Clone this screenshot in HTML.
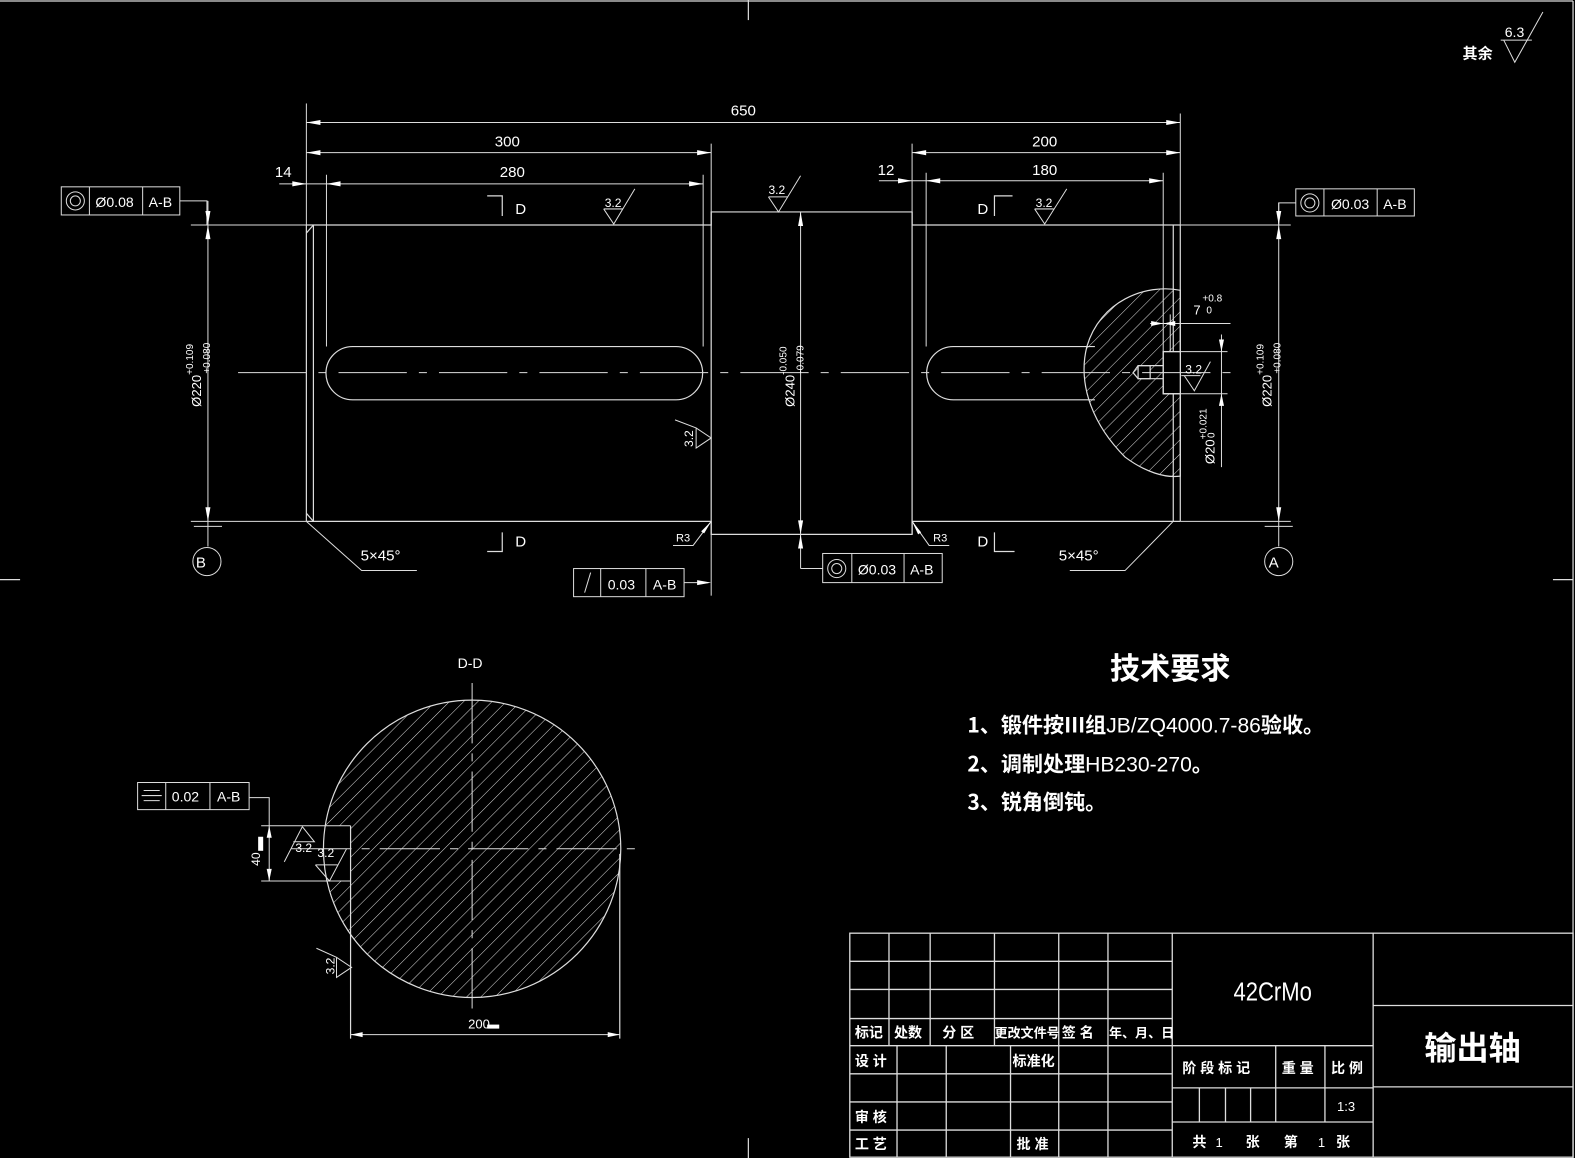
<!DOCTYPE html>
<html><head><meta charset="utf-8"><style>
html,body{margin:0;padding:0;background:#000;}
svg{display:block}
text{fill:#fff;font-family:"Liberation Sans Narrow","Liberation Sans","Noto Sans CJK SC",sans-serif;}
.c{font-family:"Noto Sans CJK SC","WenQuanYi Zen Hei",sans-serif;font-weight:bold}
</style></head><body>
<svg width="1575" height="1158" viewBox="0 0 1575 1158" xmlns="http://www.w3.org/2000/svg">
<defs>
<pattern id="h" patternUnits="userSpaceOnUse" width="10" height="10" patternTransform="rotate(45)">
<line x1="0" y1="0" x2="0" y2="10" stroke="#ddd" stroke-width="1"/>
</pattern>
</defs>
<rect width="1575" height="1158" fill="#000"/>
<g transform="scale(1.0045)" stroke="#ddd" stroke-width="1.2" fill="none">
<line x1="0" y1="1" x2="1566" y2="1"/>
<line x1="1566" y1="1" x2="1566" y2="1153"/>
<line x1="745" y1="0" x2="745" y2="20"/><line x1="745" y1="1133" x2="745" y2="1153"/>
<line x1="0" y1="577" x2="20" y2="577"/><line x1="1546" y1="577" x2="1566" y2="577"/>

<polyline points="305,224 708,224 708,211 908,211 908,224 1175,224"/>
<polyline points="305,519 708,519 708,532 908,532 908,519 1175,519"/>
<line x1="305" y1="224" x2="305" y2="519"/>
<line x1="312" y1="224" x2="312" y2="519"/>
<line x1="305" y1="232" x2="312" y2="224"/><line x1="305" y1="511" x2="312" y2="519"/>
<line x1="708" y1="211" x2="708" y2="532"/>
<line x1="908" y1="211" x2="908" y2="532"/>
<line x1="1168" y1="224" x2="1168" y2="519"/>
<line x1="1175" y1="224" x2="1175" y2="519"/>
<path d="M351,345 H673 A26.5,26.5 0 0 1 673,398 H351 A26.5,26.5 0 0 1 351,345 Z"/>
<path d="M1090,345 H949 A26.5,26.5 0 0 0 949,398 H1090"/>
<path d="M1175,289 C1140,282 1095,300 1082,345 C1072,385 1090,425 1120,455 C1140,470 1160,476 1175,474 Z" fill="url(#h)"/>
<rect x="1158" y="350" width="17" height="42" fill="#000"/>
<polyline points="1175,350 1158,350 1158,392 1175,392"/>
<rect x="1133" y="364" width="12" height="13" fill="#000"/>
<polyline points="1158,364 1133,364 1128,371 1133,377 1158,377"/>
<line x1="237" y1="371" x2="1225" y2="371" stroke-dasharray="68,12,8,12" stroke-width="1"/>

<g stroke-width="1">
<line x1="305" y1="103" x2="305" y2="224"/><line x1="1175" y1="113" x2="1175" y2="224"/>
<line x1="305" y1="122" x2="1175" y2="122"/>
<line x1="708" y1="143" x2="708" y2="211"/><line x1="305" y1="152" x2="708" y2="152"/>
<line x1="325" y1="174" x2="325" y2="345"/><line x1="700" y1="174" x2="700" y2="345"/>
<line x1="278" y1="183" x2="700" y2="183"/>
<line x1="908" y1="143" x2="908" y2="211"/><line x1="908" y1="152" x2="1175" y2="152"/>
<line x1="922" y1="172" x2="922" y2="345"/><line x1="1158" y1="172" x2="1158" y2="350"/>
<line x1="875" y1="180" x2="1158" y2="180"/>
<line x1="190" y1="224" x2="305" y2="224"/><line x1="190" y1="519" x2="305" y2="519"/>
<line x1="207" y1="200" x2="207" y2="544"/>
<line x1="193" y1="524" x2="221" y2="524"/>
<circle cx="206" cy="559" r="14"/>
<line x1="1175" y1="224" x2="1285" y2="224"/><line x1="1175" y1="519" x2="1285" y2="519"/>
<line x1="1273" y1="202" x2="1273" y2="544"/>
<line x1="1259" y1="524" x2="1287" y2="524"/>
<circle cx="1273" cy="559" r="14"/>
<line x1="797" y1="211" x2="797" y2="566"/>
<polyline points="797,566 819,566"/>
<line x1="1158" y1="350" x2="1222" y2="350"/><line x1="1158" y1="392" x2="1222" y2="392"/>
<line x1="1216" y1="333" x2="1216" y2="465"/>
<line x1="1145" y1="322" x2="1225" y2="322"/><line x1="1165" y1="313" x2="1165" y2="350"/>
<polyline points="179,200 206,200 206,224"/>
<polyline points="1290,202 1273,202 1273,224"/>
<polyline points="681,580 705,580"/>
<polyline points="305,519 360,568 415,568"/>
<polyline points="1168,519 1120,568 1065,568"/>
<polyline points="708,519 690,543 670,543"/>
<polyline points="908,519 925,543 945,543"/>
<line x1="708" y1="532" x2="708" y2="593"/>
</g>
<g fill="#fff" stroke="none">
<path d="M305,122 l14,-2.5 v5z"/><path d="M1175,122 l-14,-2.5 v5z"/>
<path d="M305,152 l14,-2.5 v5z"/><path d="M708,152 l-14,-2.5 v5z"/>
<path d="M325,183 l14,-2.5 v5z"/><path d="M700,183 l-14,-2.5 v5z"/>
<path d="M305,183 l-14,-2.5 v5z"/>
<path d="M908,152 l14,-2.5 v5z"/><path d="M1175,152 l-14,-2.5 v5z"/>
<path d="M922,180 l14,-2.5 v5z"/><path d="M1158,180 l-14,-2.5 v5z"/>
<path d="M908,180 l-14,-2.5 v5z"/>
<path d="M207,224 l-2.5,14 h5z"/><path d="M207,519 l-2.5,-14 h5z"/><path d="M207,224 l-2.5,-14 h5z"/>
<path d="M1273,224 l-2.5,14 h5z"/><path d="M1273,519 l-2.5,-14 h5z"/><path d="M1273,224 l-2.5,-14 h5z"/>
<path d="M797,211 l-2.5,14 h5z"/><path d="M797,532 l-2.5,-14 h5z"/><path d="M797,532 l-2.5,14 h5z"/>
<path d="M708,580 l-14,-2.5 v5z"/>
<path d="M1216,350 l-2.5,-12 h5z"/><path d="M1216,392 l-2.5,12 h5z"/>
<path d="M1158,322 l-12,-2.5 v5z"/><path d="M1158,322 l12,-2.5 v5z"/>
<path d="M708,519 l-10,10 l3,2z"/><path d="M908,519 l9,11 l-3,2z"/>
</g>

<polyline points="485,195 500,195 500,215"/>
<polyline points="485,549 500,549 500,530"/>
<polyline points="1008,195 990,195 990,215"/>
<polyline points="1010,549 990,549 990,530"/>

<g stroke-width="1">
<polyline points="601,208 611,223 632,188"/><line x1="601" y1="208" x2="620" y2="208"/>
<polyline points="765,196 775,211 797,175"/><line x1="765" y1="196" x2="784" y2="196"/>
<polyline points="1030,208 1040,223 1062,188"/><line x1="1030" y1="208" x2="1049" y2="208"/>
<polyline points="672,418 693,426 708,436 693,446 693,426"/>
<polyline points="1179,374 1189,389 1205,360"/><line x1="1176" y1="374" x2="1195" y2="374"/>
<polyline points="1497,40 1508,62 1536,12"/><line x1="1494" y1="40" x2="1525" y2="40"/>
</g>

<g stroke-width="1">
<rect x="61" y="186" width="118" height="28"/><line x1="89" y1="186" x2="89" y2="214"/><line x1="142" y1="186" x2="142" y2="214"/>
<circle cx="75" cy="200" r="9"/><circle cx="75" cy="200" r="5"/>
<rect x="1290" y="188" width="118" height="27"/><line x1="1318" y1="188" x2="1318" y2="215"/><line x1="1371" y1="188" x2="1371" y2="215"/>
<circle cx="1304" cy="202" r="9"/><circle cx="1304" cy="202" r="5"/>
<rect x="571" y="566" width="110" height="28"/><line x1="598" y1="566" x2="598" y2="594"/><line x1="643" y1="566" x2="643" y2="594"/>
<line x1="582" y1="590" x2="588" y2="570"/>
<rect x="819" y="551" width="119" height="29"/><line x1="848" y1="551" x2="848" y2="580"/><line x1="900" y1="551" x2="900" y2="580"/>
<circle cx="833" cy="566" r="9"/><circle cx="833" cy="566" r="5"/>
<rect x="137" y="779" width="111" height="27"/><line x1="165" y1="779" x2="165" y2="806"/><line x1="209" y1="779" x2="209" y2="806"/>
<line x1="143" y1="787" x2="159" y2="787"/><line x1="141" y1="792" x2="161" y2="792"/><line x1="143" y1="797" x2="159" y2="797"/>
<polyline points="248,794 268,794 268,822"/>
</g>

<!-- D-D section -->
<circle cx="470" cy="845" r="148" fill="url(#h)" stroke="none"/>
<rect x="318" y="822" width="31" height="55" fill="#000" stroke="none"/>
<circle cx="470" cy="845" r="148"/>
<line x1="349" y1="822" x2="349" y2="1034"/>
<line x1="617" y1="850" x2="617" y2="1034"/>
<line x1="349" y1="1030" x2="617" y2="1030" stroke-width="1"/>
<line x1="260" y1="822" x2="349" y2="822" stroke-width="1"/>
<line x1="260" y1="877" x2="349" y2="877" stroke-width="1"/>
<line x1="268" y1="822" x2="268" y2="877" stroke-width="1"/>
<line x1="290" y1="845" x2="637" y2="845" stroke-dasharray="60,10,8,10" stroke-width="1"/>
<line x1="470" y1="680" x2="470" y2="1010" stroke-dasharray="60,10,8,10" stroke-width="1"/>
<g stroke-width="1">
<polyline points="283,858 301,823 313,838 292,838"/>
<polyline points="314,861 328,877 345,845"/><line x1="314" y1="861" x2="336" y2="861"/>
<polyline points="315,944 335,953 350,963 335,973 335,953"/>
</g>
<g fill="#fff" stroke="none">
<path d="M349,1030 l12,-2.5 v5z"/><path d="M617,1030 l-12,-2.5 v5z"/>
<path d="M268,822 l-2.5,12 h5z"/><path d="M268,877 l-2.5,-12 h5z"/>
<rect x="257" y="833" width="5" height="14"/><rect x="485" y="1020" width="12" height="4"/>
</g>

<g stroke-width="1.3">
<rect x="846" y="929" width="720" height="223"/>
<line x1="1167" y1="929" x2="1167" y2="1152"/>
<line x1="1367" y1="929" x2="1367" y2="1152"/>
<line x1="1367" y1="1001" x2="1566" y2="1001"/>
<line x1="1367" y1="1082" x2="1566" y2="1082"/>
<line x1="846" y1="957" x2="1167" y2="957"/>
<line x1="846" y1="985" x2="1167" y2="985"/>
<line x1="846" y1="1014" x2="1167" y2="1014"/>
<line x1="846" y1="1041" x2="1367" y2="1041"/>
<line x1="846" y1="1069" x2="1167" y2="1069"/>
<line x1="846" y1="1097" x2="1167" y2="1097"/>
<line x1="846" y1="1125" x2="1167" y2="1125"/>
<line x1="885" y1="929" x2="885" y2="1041"/>
<line x1="926" y1="929" x2="926" y2="1041"/>
<line x1="990" y1="929" x2="990" y2="1041"/>
<line x1="1054" y1="929" x2="1054" y2="1152"/>
<line x1="1103" y1="929" x2="1103" y2="1152"/>
<line x1="893" y1="1041" x2="893" y2="1152"/>
<line x1="942" y1="1041" x2="942" y2="1152"/>
<line x1="1006" y1="1041" x2="1006" y2="1152"/>
<line x1="1167" y1="1083" x2="1367" y2="1083"/>
<line x1="1167" y1="1117" x2="1367" y2="1117"/>
<line x1="1194" y1="1083" x2="1194" y2="1117"/>
<line x1="1220" y1="1083" x2="1220" y2="1117"/>
<line x1="1245" y1="1083" x2="1245" y2="1117"/>
<line x1="1270" y1="1041" x2="1270" y2="1117"/>
<line x1="1319" y1="1041" x2="1319" y2="1117"/>
</g>
</g>

<g transform="scale(1.0045)" font-size="15">
<text x="740" y="115" text-anchor="middle">650</text>
<text x="505" y="146" text-anchor="middle">300</text>
<text x="510" y="176" text-anchor="middle">280</text>
<text x="282" y="176" text-anchor="middle">14</text>
<text x="1040" y="146" text-anchor="middle">200</text>
<text x="1040" y="174" text-anchor="middle">180</text>
<text x="882" y="174" text-anchor="middle">12</text>
<text x="513" y="213">D</text><text x="513" y="544">D</text>
<text x="973" y="213">D</text><text x="973" y="544">D</text>
<text x="602" y="206" font-size="12">3.2</text>
<text x="765" y="193" font-size="12">3.2</text>
<text x="1031" y="206" font-size="12">3.2</text>
<text x="1180" y="372" font-size="12">3.2</text>
<text x="1498" y="37" font-size="14">6.3</text>
<text x="1456" y="58" class="c" font-size="15">其余</text>
<text x="1188" y="313" font-size="13">7</text><text x="1197" y="300" font-size="10">+0.8</text><text x="1201" y="312" font-size="10">0</text>
<text x="359" y="558">5×45°</text>
<text x="1054" y="558">5×45°</text>
<text x="673" y="539" font-size="11">R3</text>
<text x="929" y="539" font-size="11">R3</text>
<text x="200" y="565" text-anchor="middle">B</text>
<text x="1268" y="565" text-anchor="middle">A</text>
<text x="95" y="206" font-size="14">Ø0.08</text><text x="148" y="206" font-size="14">A-B</text>
<text x="1325" y="208" font-size="14">Ø0.03</text><text x="1377" y="208" font-size="14">A-B</text>
<text x="605" y="587" font-size="14">0.03</text><text x="650" y="587" font-size="14">A-B</text>
<text x="854" y="572" font-size="14">Ø0.03</text><text x="906" y="572" font-size="14">A-B</text>
<text x="171" y="798" font-size="14">0.02</text><text x="216" y="798" font-size="14">A-B</text>
<text transform="translate(200,405) rotate(-90)" font-size="13">Ø220<tspan dy="-8" font-size="10">+0.109</tspan></text>
<text transform="translate(209,405) rotate(-90)" font-size="10" dx="33">+0.080</text>
<text transform="translate(1266,405) rotate(-90)" font-size="13">Ø220<tspan dy="-8" font-size="10">+0.109</tspan></text>
<text transform="translate(1275,405) rotate(-90)" font-size="10" dx="33">+0.080</text>
<text transform="translate(791,405) rotate(-90)" font-size="13">Ø240<tspan dy="-8" font-size="10">-0.050</tspan></text>
<text transform="translate(800,405) rotate(-90)" font-size="10" dx="33">-0.079</text>
<text transform="translate(1209,462) rotate(-90)" font-size="13">Ø20<tspan dy="-8" font-size="10">+0.021</tspan></text>
<text transform="translate(1209,462) rotate(-90)" font-size="10" dx="26">0</text>
<text transform="translate(690,445) rotate(-90)" font-size="12">3.2</text>
<text transform="translate(333,970) rotate(-90)" font-size="12">3.2</text>
<text transform="translate(259,862) rotate(-90)" font-size="12">40</text>
<text x="294" y="848" font-size="12">3.2</text>
<text x="316" y="853" font-size="12">3.2</text>
<text x="466" y="1024" font-size="13">200</text>
<text x="468" y="665" text-anchor="middle" font-size="14">D-D</text>
<text x="1165" y="676" text-anchor="middle" class="c" font-size="30">技术要求</text>
<text x="963" y="729" class="c" font-size="21">1、锻件按Ⅲ组<tspan font-family="Liberation Sans Narrow,Liberation Sans,sans-serif" font-weight="normal">JB/ZQ4000.7-86</tspan>验收。</text>
<text x="963" y="768" class="c" font-size="21">2、调制处理<tspan font-family="Liberation Sans Narrow,Liberation Sans,sans-serif" font-weight="normal">HB230-270</tspan>。</text>
<text x="963" y="806" class="c" font-size="21">3、锐角倒钝。</text>
<g class="c" font-size="14">
<text x="851" y="1033">标记</text><text x="890" y="1033">处数</text><text x="938" y="1033">分 区</text>
<text x="990" y="1033" font-size="13">更改文件号</text><text x="1057" y="1033">签 名</text><text x="1104" y="1033" font-size="13">年、月、日</text>
<text x="851" y="1061">设 计</text><text x="1008" y="1061">标准化</text>
<text x="851" y="1117">审 核</text><text x="851" y="1144">工 艺</text><text x="1012" y="1144">批 准</text>
<text x="1177" y="1068">阶 段 标 记</text><text x="1276" y="1068">重 量</text><text x="1325" y="1068">比 例</text>
<text x="1187" y="1142">共</text><text x="1240" y="1142">张</text><text x="1278" y="1142">第</text><text x="1330" y="1142">张</text>
</g>
<text x="1210" y="1142" font-size="13">1</text><text x="1312" y="1142" font-size="13">1</text>
<text x="1331" y="1106" font-size="13">1:3</text>
<text x="1267" y="996" text-anchor="middle" font-size="26" textLength="78" lengthAdjust="spacingAndGlyphs">42CrMo</text>
<text x="1466" y="1055" text-anchor="middle" class="c" font-size="32">输出轴</text>
</g>
</svg>
</body></html>
